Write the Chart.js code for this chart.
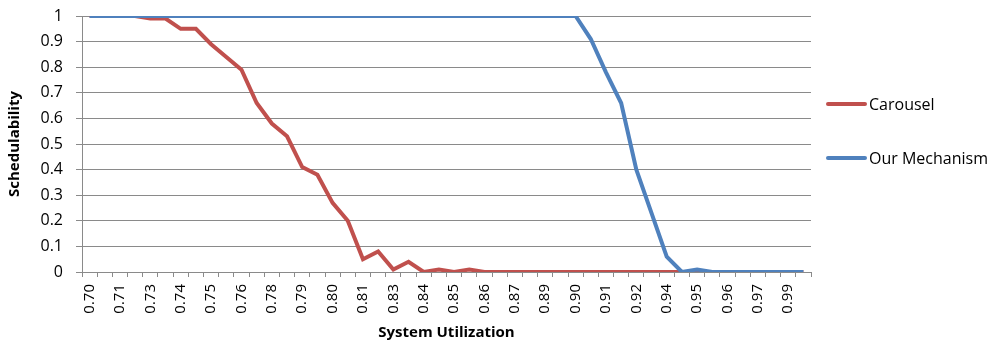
<!DOCTYPE html>
<html>
<head>
<meta charset="utf-8">
<title>Schedulability vs System Utilization</title>
<script src="https://cdn.jsdelivr.net/npm/chart.js@4.4.0/dist/chart.umd.min.js"></script>
<style>
    html, body { margin: 0; padding: 0; background: #ffffff; }
    #chart-wrap { width: 990px; height: 343px; }
</style>
</head>
<body>
<div id="chart-wrap"><canvas id="sched-chart" width="990" height="343"></canvas></div>
<script>
// --- DATA ---
// System utilization for each sample (one category per point)
const utilization = [
    0.70, 0.70625, 0.7125, 0.71875, 0.725, 0.73125, 0.7375, 0.74375,
    0.75, 0.75625, 0.7625, 0.76875, 0.775, 0.78125, 0.7875, 0.79375,
    0.80, 0.80625, 0.8125, 0.81875, 0.825, 0.83125, 0.8375, 0.84375,
    0.85, 0.85625, 0.8625, 0.86875, 0.875, 0.88125, 0.8875, 0.89375,
    0.90, 0.90625, 0.9125, 0.91875, 0.925, 0.93125, 0.9375, 0.94375,
    0.95, 0.95625, 0.9625, 0.96875, 0.975, 0.98125, 0.9875, 0.99375
];

// Labels shown under every other category (as printed in the original)
const xTickLabels = [
    '0.70', '0.71', '0.73', '0.74', '0.75', '0.76', '0.78', '0.79',
    '0.80', '0.81', '0.83', '0.84', '0.85', '0.86', '0.87', '0.89',
    '0.90', '0.91', '0.92', '0.94', '0.95', '0.96', '0.97', '0.99'
];

const yTickLabels = ['0', '0.1', '0.2', '0.3', '0.4', '0.5', '0.6', '0.7', '0.8', '0.9', '1'];

const carousel = [
    1, 1, 1, 1, 0.99, 0.99, 0.95, 0.95,
    0.89, 0.84, 0.79, 0.66, 0.58, 0.53, 0.41, 0.38,
    0.27, 0.20, 0.05, 0.08, 0.01, 0.04, 0, 0.01,
    0, 0.01, 0, 0, 0, 0, 0, 0,
    0, 0, 0, 0, 0, 0, 0, 0,
    0, 0, 0, 0, 0, 0, 0, 0
];

const ourMechanism = [
    1, 1, 1, 1, 1, 1, 1, 1,
    1, 1, 1, 1, 1, 1, 1, 1,
    1, 1, 1, 1, 1, 1, 1, 1,
    1, 1, 1, 1, 1, 1, 1, 1,
    1, 0.91, 0.78, 0.66, 0.40, 0.23, 0.06, 0,
    0.01, 0, 0, 0, 0, 0, 0, 0
];

// --- STYLE ---
const FONT = '"Open Sans", "Liberation Sans", sans-serif';
const RED = '#C0504D';
const BLUE = '#4F81BD';
const AXIS_GRAY = '#8A8A8A';
const TEXT = '#000000';

/**
 * Draws the Excel-style legend to the right of the plot area.
 */
const sideLegend = {
    id: 'sideLegend',
    afterDraw(chart) {
        const ctx = chart.ctx;
        const area = chart.chartArea;
        const x0 = area.right + 17;
        const rowY = [104, 158];
        ctx.save();
        ctx.font = '16px ' + FONT;
        ctx.textBaseline = 'middle';
        chart.data.datasets.forEach((ds, i) => {
            const y = rowY[i];
            ctx.strokeStyle = ds.borderColor;
            ctx.lineWidth = 4;
            ctx.lineCap = 'round';
            ctx.beginPath();
            ctx.moveTo(x0, y);
            ctx.lineTo(x0 + 37, y);
            ctx.stroke();
            ctx.fillStyle = TEXT;
            ctx.fillText(ds.label, x0 + 41, y + 1);
        });
        ctx.restore();
    }
};

function renderChart() {
    const ctx = document.getElementById('sched-chart');

    new Chart(ctx, {
        type: 'line',
        data: {
            labels: utilization,
            datasets: [
                { label: 'Carousel', data: carousel, borderColor: RED, backgroundColor: RED, borderWidth: 4, pointRadius: 0, tension: 0, order: 2 },
                { label: 'Our Mechanism', data: ourMechanism, borderColor: BLUE, backgroundColor: BLUE, borderWidth: 4, pointRadius: 0, tension: 0, order: 1 }
            ]
        },
        options: {
            responsive: false,
            animation: false,
            layout: { autoPadding: false, padding: { left: 0, top: 16, right: 179, bottom: 0 } },
            plugins: {
                legend: { display: false },
                tooltip: { enabled: false }
            },
            scales: {
                x: {
                    type: 'category',
                    offset: true,
                    grid: { offset: true, drawOnChartArea: false, drawTicks: true, tickLength: 5, color: AXIS_GRAY },
                    border: { color: AXIS_GRAY, width: 1 },
                    ticks: {
                        autoSkip: false,
                        maxRotation: 90,
                        minRotation: 90,
                        padding: 7,
                        color: TEXT,
                        font: { family: FONT, size: 15 },
                        callback: (val, index) => (index % 2 === 0 ? xTickLabels[index / 2] : '')
                    },
                    title: {
                        display: true,
                        text: 'System Utilization',
                        color: TEXT,
                        font: { family: FONT, size: 15, weight: 'bold' },
                        padding: { top: 0, bottom: 1 }
                    },
                    afterFit: (scale) => {
                        scale.height = 71;
                        scale.paddingLeft = 0;
                        scale.paddingRight = 0;
                    }
                },
                y: {
                    min: 0,
                    max: 1,
                    ticks: {
                        stepSize: 0.1,
                        padding: 13,
                        color: TEXT,
                        font: { family: FONT, size: 16 },
                        callback: (val, index) => yTickLabels[index]
                    },
                    grid: { color: AXIS_GRAY, tickLength: 6, lineWidth: 1 },
                    border: { color: AXIS_GRAY, width: 1 },
                    title: {
                        display: true,
                        text: 'Schedulability',
                        color: TEXT,
                        font: { family: FONT, size: 15, weight: 'bold' },
                        padding: { top: 6, bottom: 0 }
                    },
                    afterFit: (scale) => {
                        // tick padding would otherwise push the plot top down
                        scale.width = 82;
                        scale.paddingTop = 0;
                        scale.paddingBottom = 0;
                    }
                }
            }
        },
        plugins: [sideLegend]
    });
}

// --- START ---
document.addEventListener('DOMContentLoaded', renderChart);
</script>
</body>
</html>
